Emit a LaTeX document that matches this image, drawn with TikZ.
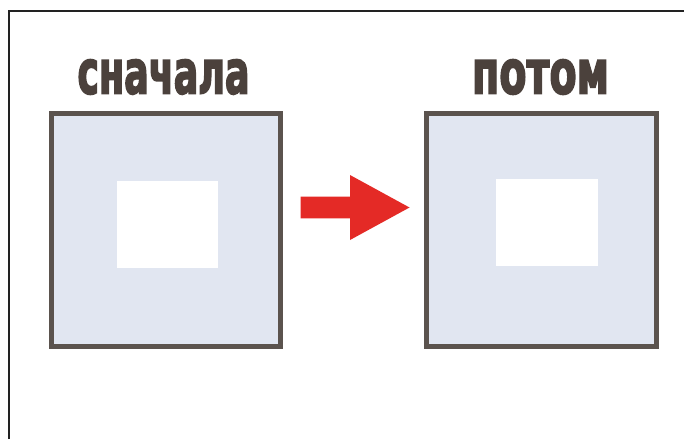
\documentclass[tikz,border=0pt]{standalone}
\usepackage{fontspec}
\newfontfamily\headfont{DejaVu Sans Condensed Bold}[FakeBold=3]
\definecolor{framec}{HTML}{222222}
\definecolor{boxborder}{HTML}{5B534E}
\definecolor{boxfill}{HTML}{E1E6F1}
\definecolor{textc}{HTML}{4B413C}
\definecolor{arrowc}{HTML}{E42A26}
\tikzset{
  outerbox/.style={draw=boxborder, line width=5pt, fill=boxfill},
  innerbox/.style={fill=white},
  headline/.style={text=textc, inner sep=0pt, font=\headfont},
  bigarrow/.style={fill=arrowc, draw=none}
}
\begin{document}
\begin{tikzpicture}[x=1pt,y=-1pt]
\useasboundingbox (0,0) rectangle (684,439);
\fill[white] (0,0) rectangle (684,439);
% frame
\draw[framec, line width=1.8pt] (8.6,439) -- (8.6,10.6) -- (684,10.6);
% left box
\draw[outerbox] (51.8,113.5) rectangle (280.8,346.5);
\fill[innerbox] (116.5,180.5) rectangle (218,268);
% right box
\draw[outerbox] (426.5,113.5) rectangle (656.5,346.5);
\fill[innerbox] (495.5,178.5) rectangle (598,266);
% titles
\node[headline] (first) at (163.5,77) {\resizebox{172pt}{34pt}{сначала}};
\node[headline] (then) at (540.5,77) {\resizebox{137pt}{34pt}{потом}};
% arrow
\fill[bigarrow] (300.7,196.7) -- (350,196.7) -- (350,175) -- (409.5,207.5)
  -- (350,240) -- (350,218.3) -- (300.7,218.3) -- cycle;
\end{tikzpicture}
\end{document}
